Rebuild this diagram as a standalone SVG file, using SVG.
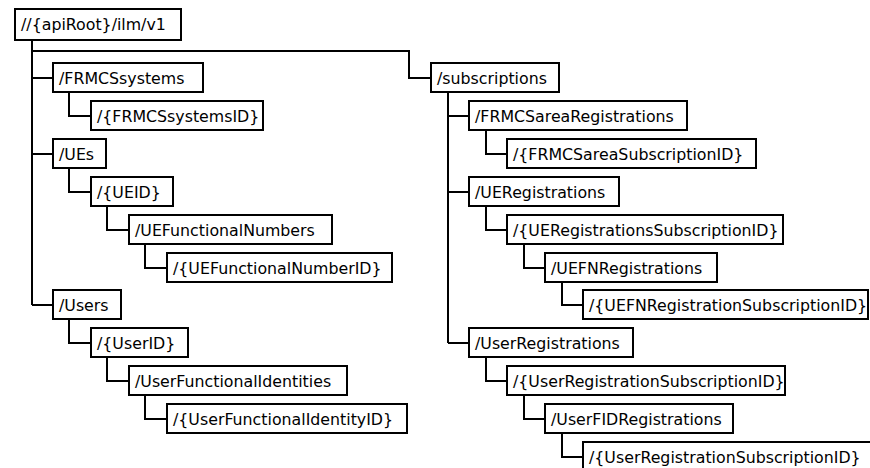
<svg xmlns="http://www.w3.org/2000/svg" width="870" height="468" viewBox="0 0 870 468">
<style>
.box rect{fill:#fff;stroke:#000;stroke-width:2}
.box text{font-family:"DejaVu Sans",sans-serif;font-size:15.8px;fill:#000}
#connectors path{fill:none;stroke:#000;stroke-width:2}
</style>
<rect width="870" height="468" fill="#fff"/>
<g id="connectors">
<path d="M32 40V305M32 78H53M32 154H53M32 305H53"/>
<path d="M32 51H409V78H431"/>
<path d="M69 92V116H91"/>
<path d="M69 168V192H91"/>
<path d="M107 206V230H129"/>
<path d="M145 244V268H167"/>
<path d="M69 319V343H91"/>
<path d="M107 357V381H129"/>
<path d="M145 395V419H167"/>
<path d="M448 92V343M448 116H469M448 192H469M448 343H469"/>
<path d="M486 130V154H507"/>
<path d="M486 206V230H507"/>
<path d="M524 244V268H545"/>
<path d="M562 282V305H583"/>
<path d="M486 357V381H507"/>
<path d="M524 395V419H545"/>
<path d="M562 433V457H583"/>
</g>
<g id="n-root" class="box"><rect x="15" y="9" width="166" height="31"/><text x="21" y="30">//{apiRoot}/ilm/v1</text></g>
<g id="n-frmcssystems" class="box"><rect x="53" y="63" width="150" height="29"/><text x="59" y="84">/FRMCSsystems</text></g>
<g id="n-frmcssystemsid" class="box"><rect x="91" y="101" width="172" height="29"/><text x="97" y="122">/{FRMCSsystemsID}</text></g>
<g id="n-ues" class="box"><rect x="53" y="139" width="53" height="29"/><text x="59" y="160">/UEs</text></g>
<g id="n-ueid" class="box"><rect x="91" y="177" width="82" height="29"/><text x="97" y="198">/{UEID}</text></g>
<g id="n-uefn" class="box"><rect x="129" y="215" width="203" height="29"/><text x="135" y="236">/UEFunctionalNumbers</text></g>
<g id="n-uefnid" class="box"><rect x="167" y="253" width="225" height="29"/><text x="173" y="274">/{UEFunctionalNumberID}</text></g>
<g id="n-users" class="box"><rect x="53" y="290" width="68" height="29"/><text x="59" y="311">/Users</text></g>
<g id="n-userid" class="box"><rect x="91" y="328" width="97" height="29"/><text x="97" y="349">/{UserID}</text></g>
<g id="n-ufi" class="box"><rect x="129" y="366" width="218" height="29"/><text x="135" y="387">/UserFunctionalIdentities</text></g>
<g id="n-ufiid" class="box"><rect x="167" y="404" width="240" height="29"/><text x="173" y="425">/{UserFunctionalIdentityID}</text></g>
<g id="n-subs" class="box"><rect x="431" y="63" width="128" height="29"/><text x="437" y="84">/subscriptions</text></g>
<g id="n-frmcsareareg" class="box"><rect x="469" y="101" width="218" height="29"/><text x="475" y="122">/FRMCSareaRegistrations</text></g>
<g id="n-frmcsareasubid" class="box"><rect x="507" y="139" width="249" height="29"/><text x="513" y="160">/{FRMCSareaSubscriptionID}</text></g>
<g id="n-uereg" class="box"><rect x="469" y="177" width="150" height="29"/><text x="475" y="198">/UERegistrations</text></g>
<g id="n-ueregsubid" class="box"><rect x="507" y="215" width="276" height="29"/><text x="513" y="236">/{UERegistrationsSubscriptionID}</text></g>
<g id="n-uefnreg" class="box"><rect x="545" y="253" width="172" height="29"/><text x="551" y="274">/UEFNRegistrations</text></g>
<g id="n-uefnregsubid" class="box"><rect x="583" y="290" width="285" height="29"/><text x="589" y="311">/{UEFNRegistrationSubscriptionID}</text></g>
<g id="n-userreg" class="box"><rect x="469" y="328" width="164" height="29"/><text x="475" y="349">/UserRegistrations</text></g>
<g id="n-userregsubid" class="box"><rect x="507" y="366" width="278" height="29"/><text x="513" y="387">/{UserRegistrationSubscriptionID}</text></g>
<g id="n-userfidreg" class="box"><rect x="545" y="404" width="188" height="29"/><text x="551" y="425">/UserFIDRegistrations</text></g>
<g id="n-userfidregsubid" class="box"><rect x="583" y="442" width="292" height="29"/><text x="589" y="463">/{UserRegistrationSubscriptionID}</text></g>
</svg>
